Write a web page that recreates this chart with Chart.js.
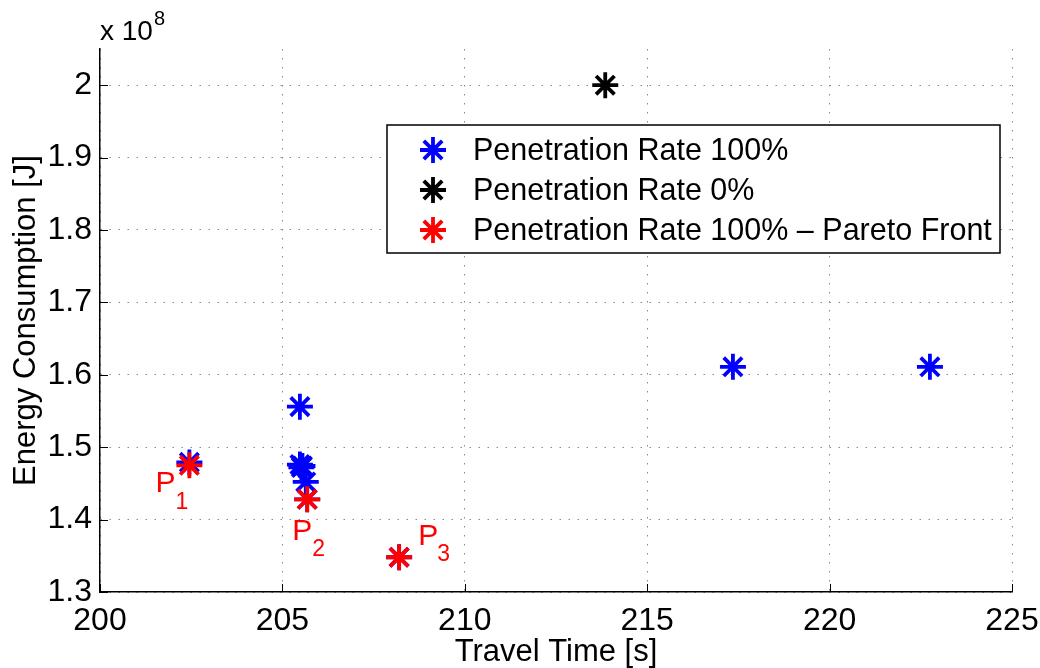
<!DOCTYPE html>
<html>
<head>
<meta charset="utf-8">
<script src="https://cdn.jsdelivr.net/npm/chart.js@4.4.1/dist/chart.umd.min.js"></script>
<style>
  html, body { margin: 0; padding: 0; background: #fff; }
  #wrap { width: 1040px; height: 668px; position: relative; }
</style>
</head>
<body>
<div id="wrap"><canvas id="chart" width="1040" height="668"></canvas></div>
<script>
// Travel time [s] and energy consumption [x 10^8 J] per simulation run
const travelTime100 = [202.45, 205.48, 205.48, 205.55, 205.52, 205.64, 205.68, 208.2, 217.35, 222.75];
const energy100     = [1.479,  1.556,  1.476,  1.474,  1.472,  1.452,  1.428,  1.348, 1.611, 1.611];

const travelTime0 = [213.85];
const energy0     = [2.0];

const travelTimePareto = [202.45, 205.68, 208.2];
const energyPareto     = [1.475, 1.428, 1.348];
const paretoNames      = ['1', '2', '3'];

const seriesLabels = [
  'Penetration Rate 100%',
  'Penetration Rate 0%',
  'Penetration Rate 100% \u2013 Pareto Front'
];

const xTickValues = [200, 205, 210, 215, 220, 225];
const yTickValues = [1.3, 1.4, 1.5, 1.6, 1.7, 1.8, 1.9, 2.0];

const FONT = '"Liberation Sans", Arial, Helvetica, sans-serif';

const toPoints = (xs, ys) => xs.map((x, i) => ({ x: x, y: ys[i] }));

// Tick marks pointing into the plot, MATLAB style
const innerTicks = {
  id: 'innerTicks',
  afterDraw(chart) {
    const { ctx, chartArea: a, scales: { x, y } } = chart;
    ctx.save();
    ctx.strokeStyle = '#000';
    ctx.lineWidth = 1;
    ctx.beginPath();
    x.ticks.forEach(t => {
      const px = Math.round(x.getPixelForValue(t.value)) + 0.5;
      ctx.moveTo(px, a.bottom);
      ctx.lineTo(px, a.bottom - 8);
    });
    y.ticks.forEach(t => {
      const py = Math.round(y.getPixelForValue(t.value)) + 0.5;
      ctx.moveTo(a.left, py);
      ctx.lineTo(a.left + 8, py);
    });
    ctx.stroke();
    ctx.restore();
  }
};

// Exponent label above the y axis
const exponentLabel = {
  id: 'exponentLabel',
  afterDraw(chart) {
    const { ctx, chartArea: a } = chart;
    ctx.save();
    ctx.fillStyle = '#000';
    ctx.textBaseline = 'alphabetic';
    ctx.textAlign = 'left';
    ctx.font = '28px ' + FONT;
    ctx.fillText('x 10', a.left, 40);
    const w = ctx.measureText('x 10').width;
    ctx.font = '20px ' + FONT;
    ctx.fillText('8', a.left + w + 1, 25);
    ctx.restore();
  }
};

// P1..P3 names next to the Pareto points
const paretoNamesPlugin = {
  id: 'paretoNames',
  afterDatasetsDraw(chart, args, opts) {
    const { ctx, scales: { x, y } } = chart;
    ctx.save();
    ctx.fillStyle = '#ff0000';
    ctx.textAlign = 'left';
    ctx.textBaseline = 'alphabetic';
    travelTimePareto.forEach((t, i) => {
      const px = x.getPixelForValue(t);
      const py = y.getPixelForValue(energyPareto[i]);
      const o = opts.offsets[i];
      ctx.font = '30px ' + FONT;
      ctx.fillText('P', px + o[0], py + o[1]);
      ctx.font = '23px ' + FONT;
      ctx.fillText(paretoNames[i], px + o[2], py + o[3]);
    });
    ctx.restore();
  }
};

// Boxed legend inside the plot
const boxLegend = {
  id: 'boxLegend',
  afterDraw(chart, args, opts) {
    const { ctx } = chart;
    const b = opts.box;
    ctx.save();
    ctx.fillStyle = '#fff';
    ctx.fillRect(b.x, b.y, b.w, b.h);
    ctx.strokeStyle = '#000';
    ctx.lineWidth = 1.5;
    ctx.strokeRect(b.x, b.y, b.w, b.h);
    chart.data.datasets.forEach((ds, i) => {
      const cy = b.y + opts.firstRow + i * opts.rowGap;
      ctx.strokeStyle = ds.borderColor;
      ctx.fillStyle = ds.borderColor;
      ctx.lineWidth = ds.pointBorderWidth;
      Chart.helpers.drawPoint(ctx, {
        pointStyle: 'star', radius: ds.pointRadius, borderWidth: ds.pointBorderWidth, rotation: 0
      }, b.x + opts.markerX, cy);
      ctx.fillStyle = '#000';
      ctx.font = '30.5px ' + FONT;
      ctx.textAlign = 'left';
      ctx.textBaseline = 'alphabetic';
      ctx.fillText(ds.label, b.x + opts.textX, cy + 10);
    });
    ctx.restore();
  }
};

const marker = { pointStyle: 'star', pointRadius: 13, pointHoverRadius: 13, pointBorderWidth: 3.8, showLine: false };

new Chart(document.getElementById('chart'), {
  type: 'scatter',
  data: {
    datasets: [
      Object.assign({ label: seriesLabels[0], data: toPoints(travelTime100, energy100),
        borderColor: '#0000ff', backgroundColor: '#0000ff', order: 3 }, marker),
      Object.assign({ label: seriesLabels[1], data: toPoints(travelTime0, energy0),
        borderColor: '#000000', backgroundColor: '#000000', order: 2 }, marker),
      Object.assign({ label: seriesLabels[2], data: toPoints(travelTimePareto, energyPareto),
        borderColor: '#ff0000', backgroundColor: '#ff0000', order: 1 }, marker)
    ]
  },
  options: {
    responsive: false,
    animation: false,
    events: [],
    layout: { padding: { top: 49, right: 28, left: 0, bottom: 0 } },
    plugins: {
      legend: { display: false },
      tooltip: { enabled: false },
      boxLegend: {
        box: { x: 387, y: 125, w: 613, h: 128 },
        markerX: 46, textX: 86, firstRow: 25, rowGap: 40
      },
      paretoNames: {
        offsets: [[-34, 27, -14, 44], [-15, 41, 5, 57], [19, -12, 38, 4]]
      }
    },
    scales: {
      x: {
        type: 'linear',
        min: 200, max: 225,
        afterBuildTicks: s => { s.ticks = xTickValues.map(v => ({ value: v })); },
        afterFit: s => { s.height = 76; s.paddingLeft = 0; s.paddingRight = 0; },
        grid: { color: '#8a8a8a', lineWidth: 1, drawTicks: false },
        border: { display: true, color: '#000', width: 1.5, dash: [1.5, 7.5] },
        ticks: { color: '#000', padding: 10, maxRotation: 0, font: { family: FONT, size: 32 },
          callback: v => String(v) },
        title: { display: true, text: 'Travel Time [s]', color: '#000',
          font: { family: FONT, size: 31 }, padding: { top: 0, bottom: -3 } }
      },
      y: {
        type: 'linear',
        min: 1.3, max: 2.05,
        afterBuildTicks: s => { s.ticks = yTickValues.map(v => ({ value: v })); },
        afterFit: s => { s.width = 100; s.paddingTop = 0; s.paddingBottom = 0; },
        grid: { color: '#8a8a8a', lineWidth: 1, drawTicks: false },
        border: { display: true, color: '#000', width: 1.5, dash: [1.5, 7.5] },
        ticks: { color: '#000', padding: 8, font: { family: FONT, size: 32 },
          callback: v => String(+v.toFixed(1)) },
        title: { display: true, text: 'Energy Consumption [J]', color: '#000',
          font: { family: FONT, size: 31 }, padding: { top: 8, bottom: 0 } }
      }
    }
  },
  plugins: [innerTicks, exponentLabel, paretoNamesPlugin, boxLegend]
});
</script>
</body>
</html>
